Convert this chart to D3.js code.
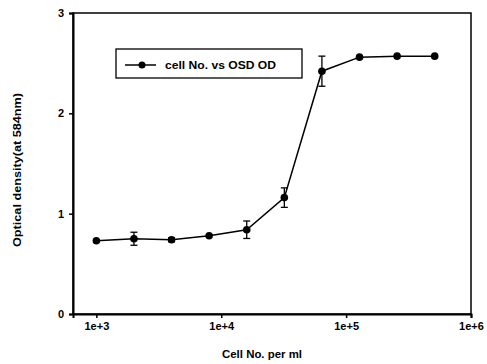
<!DOCTYPE html>
<html lang="en">
<head>
<meta charset="utf-8">
<script src="https://d3js.org/d3.v7.min.js"></script>
<style>
  body { margin: 0; background: #fff; }
  text { font-family: "Liberation Sans", Arial, sans-serif; font-weight: bold; fill: #000; }
</style>
</head>
<body>
<script>
// cells per ml (doubling dilution series)
var cellNo = [1000, 2000, 4000, 8000, 16000, 32000, 64000, 128000, 256000, 512000];
// optical density at 584nm
var od = [0.73, 0.75, 0.74, 0.78, 0.84, 1.16, 2.42, 2.56, 2.57, 2.57];
// error (+/-)
var odErr = [0, 0.065, 0.02, 0, 0.087, 0.097, 0.15, 0, 0, 0];
var xTicks = [1e3, 1e4, 1e5, 1e6];
var xTickLabels = ["1e+3", "1e+4", "1e+5", "1e+6"];
var yTicks = [0, 1, 2, 3];

var w = 487, h = 364;
var pLeft = 73, pRight = 471, pTop = 13, pBottom = 314;

var svg = d3.select("body").append("svg")
  .attr("width", w)
  .attr("height", h);

var x = d3.scaleLog().domain([650, 1e6]).range([pLeft, pRight]);
var y = d3.scaleLinear().domain([0, 3]).range([pBottom, pTop]);

// frame
svg.append("rect")
  .attr("x", pLeft).attr("y", pTop)
  .attr("width", pRight - pLeft).attr("height", pBottom - pTop)
  .attr("fill", "none").attr("stroke", "#000").attr("stroke-width", 1.5);

// axes
var xAxis = d3.axisBottom(x)
  .tickValues(xTicks)
  .tickSize(4)
  .tickFormat(function(d, i) { return xTickLabels[i]; });
var gx = svg.append("g")
  .attr("transform", "translate(0," + pBottom + ")")
  .call(xAxis);
gx.select(".domain").attr("stroke-width", 2);
gx.selectAll("line").attr("stroke-width", 1.5);
gx.selectAll("text").attr("y", 7).attr("dy", "0.8em").style("font-size", "11px");

var yAxis = d3.axisLeft(y).tickValues(yTicks).tickSize(4).tickFormat(d3.format("d"));
var gy = svg.append("g")
  .attr("transform", "translate(" + pLeft + ",0)")
  .call(yAxis);
gy.select(".domain").attr("stroke-width", 2);
gy.selectAll("line").attr("stroke-width", 1.5);
gy.selectAll("text").attr("x", -9).style("font-size", "11px");

// axis titles
svg.append("text")
  .attr("x", 262)
  .attr("y", 358)
  .attr("text-anchor", "middle")
  .attr("textLength", 80)
  .attr("lengthAdjust", "spacingAndGlyphs")
  .style("font-size", "11px")
  .text("Cell No. per ml");

svg.append("text")
  .attr("transform", "translate(21,170) rotate(-90)")
  .attr("text-anchor", "middle")
  .attr("textLength", 154)
  .attr("lengthAdjust", "spacingAndGlyphs")
  .style("font-size", "11px")
  .text("Optical density(at 584nm)");

// data line
var line = d3.line()
  .x(function(d, i) { return x(cellNo[i]); })
  .y(function(d) { return y(d); });

svg.append("path")
  .datum(od)
  .attr("fill", "none")
  .attr("stroke", "#000")
  .attr("stroke-width", 1.5)
  .attr("d", line);

// error bars
var errG = svg.append("g").selectAll("g")
  .data(od.map(function(d, i) { return { x: cellNo[i], y: d, e: odErr[i] }; })
          .filter(function(d) { return d.e > 0; }))
  .enter().append("g")
  .attr("stroke", "#000")
  .attr("stroke-width", 1.3);
errG.append("line")
  .attr("x1", function(d) { return x(d.x); })
  .attr("x2", function(d) { return x(d.x); })
  .attr("y1", function(d) { return y(d.y + d.e); })
  .attr("y2", function(d) { return y(d.y - d.e); });
errG.append("line")
  .attr("x1", function(d) { return x(d.x) - 3.5; })
  .attr("x2", function(d) { return x(d.x) + 3.5; })
  .attr("y1", function(d) { return y(d.y + d.e); })
  .attr("y2", function(d) { return y(d.y + d.e); });
errG.append("line")
  .attr("x1", function(d) { return x(d.x) - 3.5; })
  .attr("x2", function(d) { return x(d.x) + 3.5; })
  .attr("y1", function(d) { return y(d.y - d.e); })
  .attr("y2", function(d) { return y(d.y - d.e); });

// markers
svg.append("g").selectAll("circle")
  .data(od)
  .enter().append("circle")
  .attr("cx", function(d, i) { return x(cellNo[i]); })
  .attr("cy", function(d) { return y(d); })
  .attr("r", 3.8)
  .attr("fill", "#000");

// legend
var lg = svg.append("g");
lg.append("rect")
  .attr("x", 116).attr("y", 49)
  .attr("width", 186).attr("height", 29)
  .attr("fill", "#fff").attr("stroke", "#000").attr("stroke-width", 1.3);
lg.append("line")
  .attr("x1", 125).attr("x2", 156)
  .attr("y1", 65).attr("y2", 65)
  .attr("stroke", "#000").attr("stroke-width", 1.5);
lg.append("circle")
  .attr("cx", 142).attr("cy", 65).attr("r", 3.5).attr("fill", "#000");
lg.append("text")
  .attr("x", 165).attr("y", 69)
  .attr("textLength", 111)
  .attr("lengthAdjust", "spacingAndGlyphs")
  .style("font-size", "10.5px")
  .text("cell No. vs OSD OD");
</script>
</body>
</html>
